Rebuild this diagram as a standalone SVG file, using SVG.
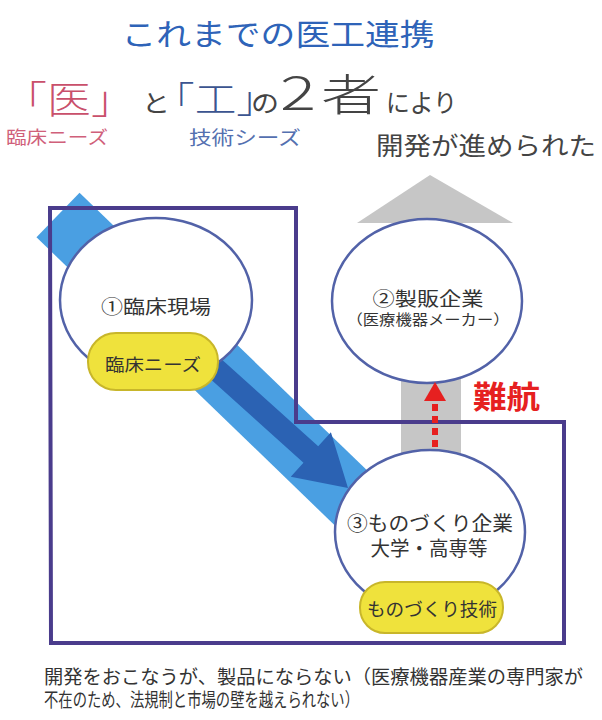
<svg xmlns="http://www.w3.org/2000/svg" width="602" height="720" viewBox="0 0 602 720">
<style>
text{font-family:"Noto Sans CJK JP","Noto Sans",sans-serif;}
.c{text-anchor:middle;}
.node{fill:#fff;stroke:#5262a8;stroke-width:2.5;}
.pill{fill:#efe23c;stroke:#c8b62a;stroke-width:2;}
.lbl{fill:#333;}
</style>
<rect width="602" height="720" fill="#fff"/>
<g id="title">
<text class="c" x="278" y="45" font-size="30" textLength="313" lengthAdjust="spacingAndGlyphs" fill="#2e63b8">これまでの医工連携</text>
<text x="3" y="113" font-size="38" font-weight="300" textLength="132" lengthAdjust="spacingAndGlyphs" fill="#c9506b">「医」</text>
<text class="c" x="156" y="112" font-size="24" textLength="28" lengthAdjust="spacingAndGlyphs" fill="#444">と</text>
<text x="153" y="113" font-size="36" font-weight="300" textLength="125" lengthAdjust="spacingAndGlyphs" fill="#3b5490">「工」</text>
<text class="c" x="265" y="112" font-size="24" textLength="28" lengthAdjust="spacingAndGlyphs" fill="#444">の</text>
<text class="c" x="298" y="110" font-size="46" font-weight="300" textLength="36" lengthAdjust="spacingAndGlyphs" fill="#444">2</text>
<text class="c" x="351" y="111" font-size="44" font-weight="300" textLength="60" lengthAdjust="spacingAndGlyphs" fill="#444">者</text>
<text x="386" y="112" font-size="25" textLength="71" lengthAdjust="spacingAndGlyphs" fill="#444">により</text>
<text class="c" x="57" y="144" font-size="18" textLength="102" lengthAdjust="spacingAndGlyphs" fill="#d0607a">臨床ニーズ</text>
<text class="c" x="245" y="145" font-size="19" textLength="112" lengthAdjust="spacingAndGlyphs" fill="#5470b0">技術シーズ</text>
<text x="376" y="155" font-size="25" textLength="220" lengthAdjust="spacingAndGlyphs" fill="#444">開発が進められた</text>
</g>
<g id="band">
<rect x="0" y="-31" width="440" height="62" fill="#4a9fe2" transform="translate(58,215) rotate(44)"/>
</g>
<g id="connectors">
<g id="gray-arrow" fill="#c6c6c6">
<rect x="401" y="222" width="60" height="235"/>
<polygon points="430,175 357,223 513,223"/>
</g>
<polygon id="dark-arrow" fill="#2b62b3" points="0,0 -50,-30 -50,-11 -210,-11 -210,11 -50,11 -50,30" transform="translate(348,488) rotate(42)"/>
</g>
<g id="region">
<path d="M50,208 H296 V422 H564 V643 H51 Z" fill="none" stroke="#4a3c8c" stroke-width="4" stroke-linejoin="miter"/>
</g>
<g id="node1">
<ellipse class="node" cx="156" cy="300" rx="96" ry="82"/>
<text class="c lbl" x="156" y="314" font-size="19" textLength="110" lengthAdjust="spacingAndGlyphs">①臨床現場</text>
<rect class="pill" x="88" y="333" width="130" height="57" rx="28"/>
<text class="c lbl" x="153" y="371" font-size="17" textLength="96" lengthAdjust="spacingAndGlyphs">臨床ニーズ</text>
</g>
<g id="node2">
<ellipse class="node" cx="427" cy="301" rx="95" ry="82"/>
<text class="c lbl" x="428" y="306" font-size="19" textLength="111" lengthAdjust="spacingAndGlyphs">②製販企業</text>
<text class="c lbl" x="428" y="325" font-size="14.5" textLength="163" lengthAdjust="spacingAndGlyphs">（医療機器メーカー）</text>
</g>
<g id="node3">
<ellipse class="node" cx="430" cy="532" rx="95" ry="82"/>
<text class="c lbl" x="430" y="531" font-size="20" textLength="166" lengthAdjust="spacingAndGlyphs">③ものづくり企業</text>
<text class="c lbl" x="429" y="556" font-size="20" textLength="117" lengthAdjust="spacingAndGlyphs">大学・高専等</text>
<rect class="pill" x="360" y="582" width="143" height="51" rx="25"/>
<text class="c lbl" x="432" y="616" font-size="18" textLength="130" lengthAdjust="spacingAndGlyphs">ものづくり技術</text>
</g>
<g id="red-arrow">
<polygon points="435,382 424,401 446,401" fill="#e62020"/>
<line x1="435" y1="404" x2="435" y2="452" stroke="#e62020" stroke-width="6" stroke-dasharray="7 5"/>
<text x="473" y="408" font-size="31" font-weight="bold" textLength="67" lengthAdjust="spacingAndGlyphs" fill="#e62020">難航</text>
</g>
<g id="note">
<text font-size="19" fill="#333"><tspan x="44" y="684" textLength="539" lengthAdjust="spacingAndGlyphs">開発をおこなうが、製品にならない（医療機器産業の専門家が</tspan><tspan x="44" y="707" textLength="315" lengthAdjust="spacingAndGlyphs">不在のため、法規制と市場の壁を越えられない）</tspan></text>
</g>
</svg>
